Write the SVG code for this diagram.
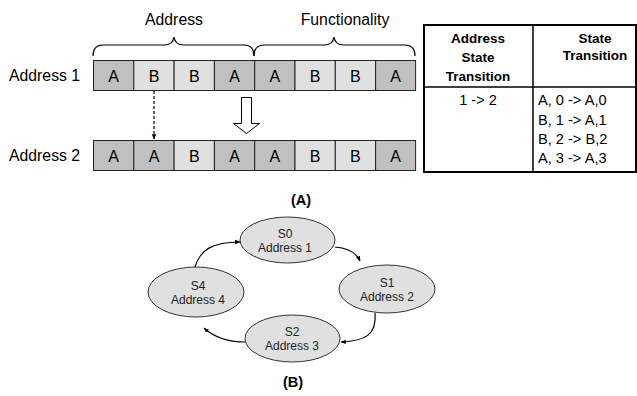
<svg xmlns="http://www.w3.org/2000/svg" width="637" height="396" viewBox="0 0 637 396">
  <defs>
    <style>
      text { font-family: "Liberation Sans", Arial, sans-serif; fill: #000; }
      .lbl { font-size: 15.8px; }
      .cell-t { font-size: 16px; text-anchor: middle; }
      .dk { fill: #c0c0c0; stroke: #222; stroke-width: 1; }
      .lt { fill: #e0e0e0; stroke: #222; stroke-width: 1; }
      .th { font-size: 13.5px; font-weight: bold; text-anchor: middle; }
      .td { font-size: 14.6px; }
      .cap { font-size: 14.5px; font-weight: bold; text-anchor: middle; }
      .state { fill: #e0e0e0; stroke: #333; stroke-width: 1; }
      .st { font-size: 12px; text-anchor: middle; fill: #222; }
      .conn { fill: none; stroke: #000; stroke-width: 1.2; }
    </style>
    <marker id="arr" viewBox="0 0 10 10" refX="9" refY="5" markerWidth="4.5" markerHeight="4.5" orient="auto">
      <path d="M0,1 L10,5 L0,9 Z" fill="#000"/>
    </marker>
  </defs>

  <rect width="637" height="396" fill="#fff"/>

  <!-- Part (A): field headers with braces -->
  <text class="lbl" x="174" y="25" text-anchor="middle">Address</text>
  <text class="lbl" x="345" y="25" text-anchor="middle">Functionality</text>
  <path class="conn" d="M93,56 Q93,45 103,45 L164,45 Q173,45 174,37 Q175,45 184,45 L244,45 Q254,45 254,56"/>
  <path class="conn" d="M254,56 Q254,45 264,45 L324,45 Q333,45 334,37 Q335,45 344,45 L405,45 Q415,45 415,56"/>

  <!-- Address 1 word -->
  <g id="address1">
    <text class="lbl" x="9" y="81">Address 1</text>
    <rect class="dk" x="93.5" y="60.5" width="40.3" height="30"/>
    <rect class="lt" x="133.8" y="60.5" width="40.3" height="30"/>
    <rect class="lt" x="174.1" y="60.5" width="40.3" height="30"/>
    <rect class="dk" x="214.4" y="60.5" width="40.3" height="30"/>
    <rect class="dk" x="254.7" y="60.5" width="40.3" height="30"/>
    <rect class="lt" x="295" y="60.5" width="40.3" height="30"/>
    <rect class="lt" x="335.3" y="60.5" width="40.3" height="30"/>
    <rect class="dk" x="375.6" y="60.5" width="40" height="30"/>
    <text class="cell-t" x="113.6" y="81.5">A</text>
    <text class="cell-t" x="154" y="81.5">B</text>
    <text class="cell-t" x="194.3" y="81.5">B</text>
    <text class="cell-t" x="234.5" y="81.5">A</text>
    <text class="cell-t" x="274.8" y="81.5">A</text>
    <text class="cell-t" x="315.1" y="81.5">B</text>
    <text class="cell-t" x="355.4" y="81.5">B</text>
    <text class="cell-t" x="395.6" y="81.5">A</text>
  </g>

  <!-- Address 2 word -->
  <g id="address2">
    <text class="lbl" x="9" y="161">Address 2</text>
    <rect class="dk" x="93.5" y="140.5" width="40.3" height="30"/>
    <rect class="dk" x="133.8" y="140.5" width="40.3" height="30"/>
    <rect class="lt" x="174.1" y="140.5" width="40.3" height="30"/>
    <rect class="dk" x="214.4" y="140.5" width="40.3" height="30"/>
    <rect class="dk" x="254.7" y="140.5" width="40.3" height="30"/>
    <rect class="lt" x="295" y="140.5" width="40.3" height="30"/>
    <rect class="lt" x="335.3" y="140.5" width="40.3" height="30"/>
    <rect class="dk" x="375.6" y="140.5" width="40" height="30"/>
    <text class="cell-t" x="113.6" y="161.5">A</text>
    <text class="cell-t" x="154" y="161.5">A</text>
    <text class="cell-t" x="194.3" y="161.5">B</text>
    <text class="cell-t" x="234.5" y="161.5">A</text>
    <text class="cell-t" x="274.8" y="161.5">A</text>
    <text class="cell-t" x="315.1" y="161.5">B</text>
    <text class="cell-t" x="355.4" y="161.5">B</text>
    <text class="cell-t" x="395.6" y="161.5">A</text>
  </g>

  <!-- Transition arrows between words -->
  <g id="word-connectors">
    <line class="conn" x1="154" y1="91" x2="154" y2="139" stroke-dasharray="3,2" marker-end="url(#arr)"/>
    <path d="M241.5,97.5 L251.5,97.5 L251.5,123.5 L259.5,123.5 L246.5,133.5 L233.5,123.5 L241.5,123.5 Z" fill="#fff" stroke="#000" stroke-width="1"/>
  </g>

  <text class="cap" x="301" y="205">(A)</text>

  <!-- Transition table -->
  <g id="table">
    <rect x="424" y="25" width="212" height="147" fill="#fff" stroke="#000" stroke-width="2"/>
    <line x1="533" y1="25" x2="533" y2="172" stroke="#000" stroke-width="1.5"/>
    <line x1="424" y1="87" x2="636" y2="87" stroke="#000" stroke-width="1.5"/>
    <text class="th" x="478" y="43">Address</text>
    <text class="th" x="478" y="62">State</text>
    <text class="th" x="478" y="81">Transition</text>
    <text class="th" x="595" y="43">State</text>
    <text class="th" x="595" y="60">Transition</text>
    <text class="td" x="478" y="105" text-anchor="middle">1 -&gt; 2</text>
    <text class="td" x="538" y="105">A, 0 -&gt; A,0</text>
    <text class="td" x="538" y="125">B, 1 -&gt; A,1</text>
    <text class="td" x="538" y="144">B, 2 -&gt; B,2</text>
    <text class="td" x="538" y="163">A, 3 -&gt; A,3</text>
  </g>

  <!-- Part (B): state cycle -->
  <g id="s0">
    <ellipse class="state" cx="287.5" cy="240" rx="47.5" ry="23"/>
    <text class="st" x="285" y="238">S0</text>
    <text class="st" x="285" y="252">Address 1</text>
  </g>
  <g id="s1">
    <ellipse class="state" cx="387" cy="289" rx="48" ry="24"/>
    <text class="st" x="387" y="287">S1</text>
    <text class="st" x="387" y="301">Address 2</text>
  </g>
  <g id="s2">
    <ellipse class="state" cx="292.5" cy="338.5" rx="47.5" ry="23.5"/>
    <text class="st" x="292" y="336">S2</text>
    <text class="st" x="292" y="350">Address 3</text>
  </g>
  <g id="s4">
    <ellipse class="state" cx="196" cy="292" rx="48" ry="25"/>
    <text class="st" x="198" y="290">S4</text>
    <text class="st" x="198" y="304">Address 4</text>
  </g>

  <g id="connectors">
    <path class="conn" d="M195,267 C200,250 212,242 240,242" marker-end="url(#arr)"/>
    <path class="conn" d="M335,247 C348,248 356,252 360,261" marker-end="url(#arr)"/>
    <path class="conn" d="M375,313 C377,335 365,341 341,342" marker-end="url(#arr)"/>
    <path class="conn" d="M245,342 C228,342 215,338 204,328" marker-end="url(#arr)"/>
  </g>

  <text class="cap" x="293" y="387">(B)</text>
</svg>
